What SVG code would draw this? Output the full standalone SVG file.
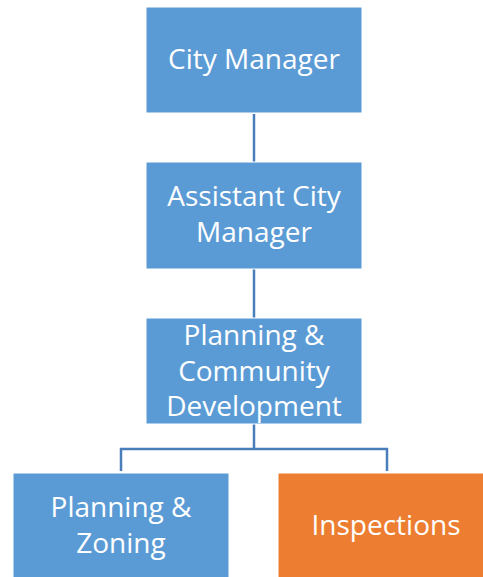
<svg xmlns="http://www.w3.org/2000/svg" width="483" height="577" viewBox="0 0 483 577">
<style>
.box{fill:#5B9BD5;stroke:#ffffff;stroke-width:1}
.orange{fill:#ED7D31}
.lbl{font-family:"Open Sans","Liberation Sans",sans-serif;font-size:28px;fill:#ffffff;text-anchor:middle}
.conn{fill:none;stroke:#4A7EBB;stroke-width:2.5}
</style>
<rect width="483" height="577" fill="#ffffff"/>
<g id="connectors">
<line class="conn" x1="254" y1="114" x2="254" y2="162"/>
<line class="conn" x1="254" y1="269" x2="254" y2="318"/>
<path class="conn" d="M254,424 V449 M121,471 V449 H387 V471"/>
</g>
<g id="city-manager">
<rect class="box" x="146" y="7" width="216" height="106"/>
<text class="lbl" x="254" y="69">City Manager</text>
</g>
<g id="assistant-city-manager">
<rect class="box" x="146" y="162" width="216" height="107"/>
<text class="lbl" x="254" y="206">Assistant City</text>
<text class="lbl" x="254" y="242">Manager</text>
</g>
<g id="planning-community-development">
<rect class="box" x="146" y="318" width="216" height="106"/>
<text class="lbl" x="254" y="345">Planning &amp;</text>
<text class="lbl" x="254" y="381">Community</text>
<text class="lbl" x="254" y="416">Development</text>
</g>
<g id="planning-zoning">
<rect class="box" x="13" y="473" width="216" height="110"/>
<text class="lbl" x="121" y="517">Planning &amp;</text>
<text class="lbl" x="121" y="553">Zoning</text>
</g>
<g id="inspections">
<rect class="box orange" x="278" y="473" width="216" height="110"/>
<text class="lbl" x="386" y="535">Inspections</text>
</g>
</svg>
